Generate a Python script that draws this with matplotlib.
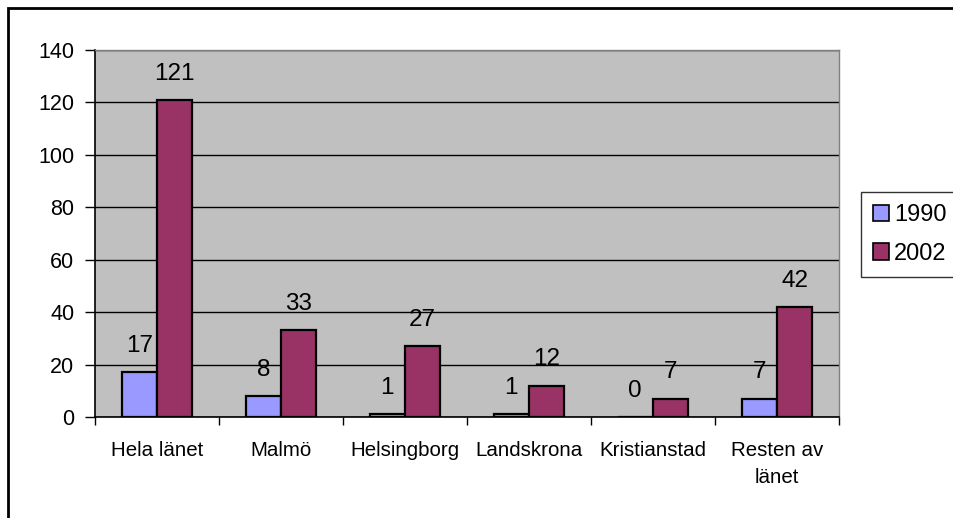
import matplotlib
matplotlib.use("Agg")
import matplotlib.pyplot as plt
import numpy as np
from matplotlib.patches import Rectangle, Patch

plt.rcParams['font.family'] = ['Liberation Sans', 'DejaVu Sans']

categories = ["Hela länet", "Malmö", "Helsingborg", "Landskrona", "Kristianstad", "Resten av\nlänet"]
series_names = ["1990", "2002"]
values_1990 = [17, 8, 1, 1, 0, 7]
values_2002 = [121, 33, 27, 12, 7, 42]
yticks = [0, 20, 40, 60, 80, 100, 120, 140]

colors = ["#9999FF", "#993366"]

W, H = 954, 518
fig = plt.figure(figsize=(W / 100, H / 100), dpi=100)
ax = fig.add_axes([95 / W, 1 - 417 / H, (839 - 95) / W, (417 - 50) / H])
ax.set_facecolor("#C0C0C0")

n = len(categories)
x = np.arange(n)
bw = 1 / 3.5
for i, (vals, c) in enumerate([(values_1990, colors[0]), (values_2002, colors[1])]):
    pos = x + (i - 0.5) * bw
    ax.bar(pos, vals, width=bw, color=c, edgecolor="black", linewidth=1.6, zorder=3)
    for p, v in zip(pos, vals):
        ax.annotate(str(v), (p, v), xytext=(0, 11), textcoords="offset points",
                    ha="center", va="bottom", fontsize=17.5)

ax.set_xlim(-0.5, n - 0.5)
ax.set_ylim(0, 140)
ax.set_yticks(yticks)
ax.tick_params(axis="y", labelsize=15.5, direction="out", length=7, width=1, pad=8)
ax.yaxis.grid(True, color="black", linewidth=1, zorder=1)
ax.set_axisbelow(True)

ax.set_xticks(x)
ax.set_xticklabels(categories, fontsize=14.8, linespacing=1.55)
ax.tick_params(axis="x", length=0, pad=17)
ax.set_xticks(np.arange(n + 1) - 0.5, minor=True)
ax.tick_params(axis="x", which="minor", direction="out", length=6, width=1)

for s in ["left", "bottom"]:
    ax.spines[s].set_color("black")
    ax.spines[s].set_linewidth(1.2)
for s in ["top", "right"]:
    ax.spines[s].set_color("#808080")
    ax.spines[s].set_linewidth(1)

# outer chart border
fig.add_artist(Rectangle((8 / W, -0.1), 2.0, 1.1 - 8 / H, transform=fig.transFigure,
                         fill=False, edgecolor="black", linewidth=2))

handles = [Patch(facecolor=c, edgecolor="black", linewidth=1.2) for c in colors]
leg = fig.legend(handles, series_names, loc="center left",
                 bbox_to_anchor=(861 / W, 1 - 234.5 / H), fontsize=17,
                 frameon=True, fancybox=False, edgecolor="black",
                 handlelength=0.7, handleheight=0.7, handletextpad=0.2,
                 labelspacing=0.7, borderpad=0.5, borderaxespad=0)
leg.get_frame().set_linewidth(1)

fig.savefig("out.png", dpi=100)
